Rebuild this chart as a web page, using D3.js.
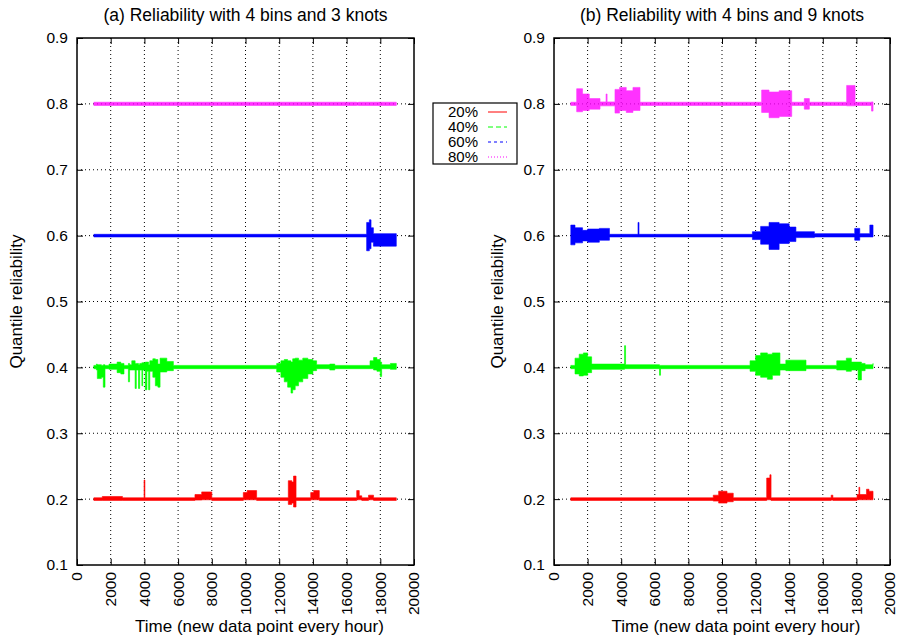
<!DOCTYPE html>
<html>
<head>
<meta charset="utf-8">
<script src="https://cdnjs.cloudflare.com/ajax/libs/d3/7.8.5/d3.min.js"></script>
<style>
  body { margin: 0; background: #fff; }
  text { font-family: 'Liberation Sans', Arial, sans-serif; fill: #000; }
</style>
</head>
<body>
<div id="chart"></div>
<script>
const width = 898
const height = 638

const quantiles = ['20%', '40%', '60%', '80%']
const colors = ['#ff0000', '#00ff00', '#0000ff', '#ff00ff']
const dashes = [null, '5,3', '3,3', '1,2']
const bandOpacity = [1, 1, 1, 0.8]
const xTicks = d3.range(0, 20001, 2000)
const yTicks = [0.1, 0.2, 0.3, 0.4, 0.5, 0.6, 0.7, 0.8, 0.9]

// each entry: [hour, low, high]
const a20 = [[1000, .198, .202], [1500, .198, .204], [2700, .198, .202], [3980, .198, .229], [4030, .198, .202],
  [7000, .1985, .207], [7400, .199, .211], [8000, .198, .202], [9870, .199, .21], [10100, .199, .213],
  [10660, .198, .202], [12540, .192, .228], [12750, .194, .226], [12850, .188, .235], [13000, .198, .202],
  [13870, .199, .21], [14050, .199, .213], [14380, .198, .202], [16600, .199, .213], [16750, .199, .205],
  [16900, .198, .202], [17300, .199, .206], [17600, .198, .202], [18950, .198, .202]]
const a40 = [[1000, .398, .403], [1150, .396, .405], [1206, .383, .404], [1450, .385, .403], [1560, .37, .404],
  [1662, .398, .403], [1900, .397, .405], [2380, .392, .408], [2600, .39, .406], [2790, .398, .403],
  [3050, .378, .406], [3120, .396, .404], [3250, .396, .41], [3450, .368, .406], [3520, .396, .406],
  [3650, .368, .404], [3720, .396, .406], [3850, .372, .407], [3900, .396, .407], [4050, .366, .408],
  [4150, .394, .408], [4250, .366, .404], [4320, .394, .41], [4500, .385, .413], [4650, .372, .412],
  [4800, .37, .405], [4930, .393, .414], [5330, .395, .409], [5720, .398, .403], [11850, .393, .406],
  [12100, .385, .41], [12300, .378, .412], [12500, .37, .41], [12700, .361, .408], [12800, .366, .413],
  [12950, .372, .414], [13150, .378, .411], [13400, .383, .414], [13700, .39, .412], [14000, .395, .41],
  [14220, .398, .404], [15000, .396, .405], [15300, .398, .403], [17390, .398, .41], [17600, .396, .415],
  [17800, .394, .412], [18000, .386, .408], [18080, .398, .404], [18600, .397, .406], [18950, .397, .406]]
const a60 = [[1000, .598, .602], [17190, .577, .62], [17350, .58, .624], [17450, .59, .612], [17590, .584, .603],
  [18950, .584, .603]]
const a80 = [[1000, .7975, .8025], [16600, .798, .802], [16700, .7975, .8025], [18950, .7975, .8025]]

const b20 = [[1000, .198, .202], [9480, .197, .206], [9800, .194, .212], [10300, .196, .209], [10670, .198, .202],
  [12660, .199, .232], [12850, .199, .237], [12920, .198, .202], [16500, .1985, .206], [16600, .198, .202],
  [18040, .199, .207], [18150, .199, .218], [18200, .199, .207], [18600, .199, .215], [18750, .199, .212],
  [18990, .199, .212]]
const b40 = [[1000, .398, .403], [1250, .39, .414], [1500, .387, .42], [1750, .388, .422], [2000, .392, .416],
  [2240, .397, .405], [4200, .398, .433], [4260, .398, .404], [6280, .388, .403], [6340, .398, .403],
  [11670, .394, .41], [12000, .388, .418], [12300, .385, .422], [12700, .382, .42], [13000, .388, .422],
  [13450, .396, .405], [13800, .395, .411], [15000, .398, .403], [16830, .396, .41], [17400, .394, .414],
  [17700, .396, .408], [18100, .381, .408], [18300, .395, .406], [18520, .398, .404], [18990, .398, .406]]
const b60 = [[1000, .586, .616], [1250, .589, .612], [1700, .592, .608], [2000, .59, .61], [2700, .593, .611],
  [3300, .598, .602], [5000, .598, .62], [5060, .598, .602], [11810, .594, .606], [12300, .587, .614],
  [12800, .579, .62], [13400, .588, .618], [14000, .591, .613], [14400, .597, .606], [15500, .598, .603],
  [17900, .593, .611], [18200, .598, .603], [18800, .598, .616], [18990, .598, .603]]
const b80 = [[1000, .7975, .8025], [1350, .788, .823], [1700, .79, .815], [2100, .792, .808], [2740, .797, .803],
  [3100, .797, .815], [3160, .797, .803], [3630, .786, .822], [3900, .79, .825], [4300, .787, .82],
  [4700, .79, .825], [5120, .7975, .8025], [12360, .787, .821], [12800, .779, .818], [13400, .781, .82],
  [14150, .7975, .8025], [14900, .792, .808], [15200, .7975, .8025], [17420, .797, .828], [17920, .7975, .8025],
  [18900, .789, .803], [18990, .789, .803]]

const panels = [
  { title: '(a) Reliability with 4 bins and 3 knots', left: 77, right: 414, ylab: 16, series: [a20, a40, a60, a80] },
  { title: '(b) Reliability with 4 bins and 9 knots', left: 554, right: 890, ylab: 497, series: [b20, b40, b60, b80] }
]

const plotTop = 38
const plotBottom = 565

const svg = d3
  .select('#chart')
  .append('svg')
  .attr('width', width)
  .attr('height', height)

const yScale = d3.scaleLinear().domain([0.1, 0.9]).range([plotBottom, plotTop])

panels.forEach(function(p) {
  const xScale = d3.scaleLinear().domain([0, 20000]).range([p.left, p.right])
  const g = svg.append('g')

  // grid
  g.selectAll('.gx')
    .data(xTicks.slice(1, -1))
    .enter()
    .append('line')
    .attr('x1', d => xScale(d))
    .attr('x2', d => xScale(d))
    .attr('y1', plotTop)
    .attr('y2', plotBottom)
    .attr('stroke', '#000')
    .attr('stroke-dasharray', '1,3')
  g.selectAll('.gy')
    .data(yTicks.slice(1, -1))
    .enter()
    .append('line')
    .attr('x1', p.left)
    .attr('x2', p.right)
    .attr('y1', d => yScale(d))
    .attr('y2', d => yScale(d))
    .attr('stroke', '#000')
    .attr('stroke-dasharray', '1,3')

  // data bands
  const area = d3.area()
    .x(d => xScale(d[0]))
    .y0(d => yScale(d[1]))
    .y1(d => yScale(d[2]))
    .curve(d3.curveStepAfter)

  p.series.forEach(function(s, i) {
    g.append('path')
      .datum(s)
      .attr('d', area)
      .attr('fill', colors[i])
      .attr('stroke', colors[i])
      .attr('stroke-width', 0.6)
      .attr('opacity', bandOpacity[i])
  })

  // frame and inward ticks
  g.append('rect')
    .attr('x', p.left)
    .attr('y', plotTop)
    .attr('width', p.right - p.left)
    .attr('height', plotBottom - plotTop)
    .attr('fill', 'none')
    .attr('stroke', '#000')
    .attr('stroke-width', 1.5)

  g.append('g')
    .attr('transform', `translate(0,${plotBottom})`)
    .call(d3.axisBottom(xScale).tickValues(xTicks).tickSizeInner(-6).tickSizeOuter(0).tickFormat(''))
    .call(a => a.select('.domain').remove())
  g.append('g')
    .attr('transform', `translate(0,${plotTop})`)
    .call(d3.axisTop(xScale).tickValues(xTicks).tickSizeInner(-6).tickSizeOuter(0).tickFormat(''))
    .call(a => a.select('.domain').remove())
  g.append('g')
    .attr('transform', `translate(${p.left},0)`)
    .call(d3.axisLeft(yScale).tickValues(yTicks).tickSizeInner(-6).tickSizeOuter(0).tickFormat(''))
    .call(a => a.select('.domain').remove())
  g.append('g')
    .attr('transform', `translate(${p.right},0)`)
    .call(d3.axisRight(yScale).tickValues(yTicks).tickSizeInner(-6).tickSizeOuter(0).tickFormat(''))
    .call(a => a.select('.domain').remove())

  // tick labels
  g.selectAll('.yl')
    .data(yTicks)
    .enter()
    .append('text')
    .attr('x', p.left - 9)
    .attr('y', d => yScale(d))
    .attr('dy', '0.35em')
    .attr('text-anchor', 'end')
    .attr('font-size', 15.5)
    .text(d => d3.format('.1f')(d))

  g.selectAll('.xl')
    .data(xTicks)
    .enter()
    .append('text')
    .attr('transform', d => `translate(${xScale(d)},572) rotate(-90)`)
    .attr('dy', '0.35em')
    .attr('text-anchor', 'end')
    .attr('font-size', 15.5)
    .text(d => d)

  // titles
  g.append('text')
    .attr('x', (p.left + p.right) / 2)
    .attr('y', 21)
    .attr('text-anchor', 'middle')
    .attr('font-size', 17.5)
    .text(p.title)
  g.append('text')
    .attr('x', (p.left + p.right) / 2 + 14)
    .attr('y', 632)
    .attr('text-anchor', 'middle')
    .attr('font-size', 17)
    .text('Time (new data point every hour)')
  g.append('text')
    .attr('transform', `translate(${p.ylab},${yScale(0.5)}) rotate(-90)`)
    .attr('text-anchor', 'middle')
    .attr('dy', '0.35em')
    .attr('font-size', 17)
    .text('Quantile reliability')
})

// legend
const legend = svg.append('g')
legend.append('rect')
  .attr('x', 433)
  .attr('y', 103)
  .attr('width', 84)
  .attr('height', 61)
  .attr('fill', '#fff')
  .attr('stroke', '#000')
  .attr('stroke-width', 1.2)

quantiles.forEach(function(q, i) {
  const cy = 112 + i * 15
  legend.append('text')
    .attr('x', 478)
    .attr('y', cy)
    .attr('dy', '0.35em')
    .attr('text-anchor', 'end')
    .attr('font-size', 15)
    .text(q)
  legend.append('line')
    .attr('x1', 488)
    .attr('x2', 507)
    .attr('y1', cy)
    .attr('y2', cy)
    .attr('stroke', colors[i])
    .attr('stroke-width', 1)
    .attr('stroke-dasharray', dashes[i])
})
</script>
</body>
</html>
